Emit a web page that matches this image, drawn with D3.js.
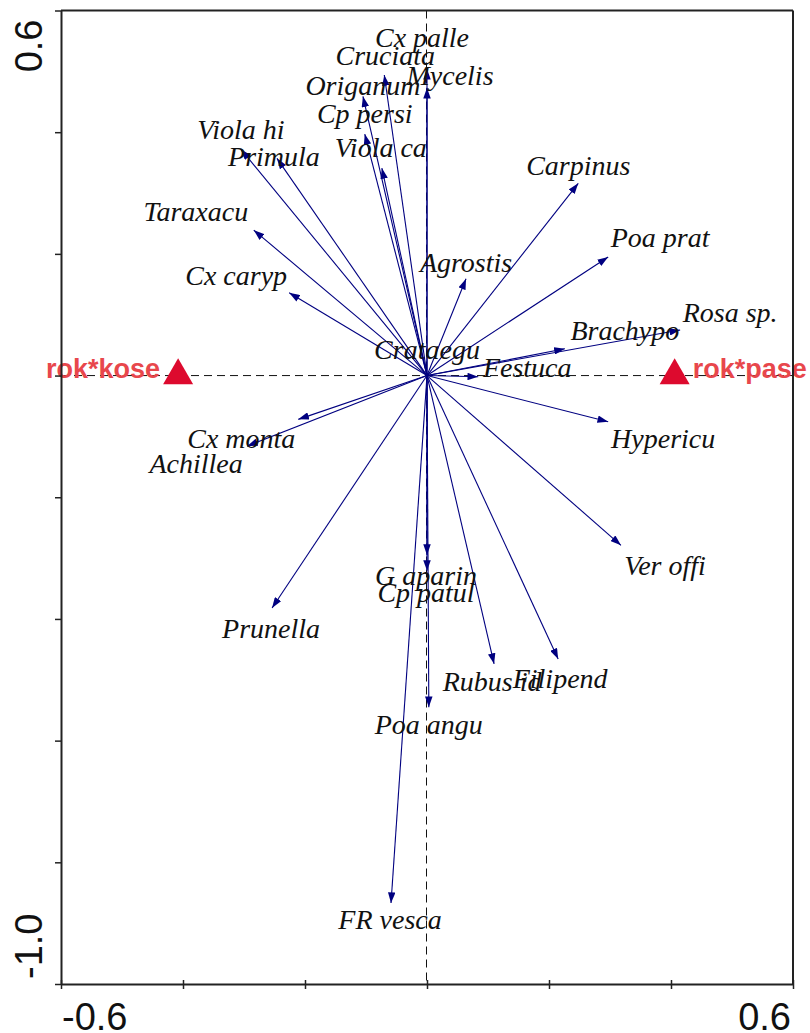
<!DOCTYPE html>
<html>
<head>
<meta charset="utf-8">
<script src="https://cdn.jsdelivr.net/npm/d3@7"></script>
<style>
  body { margin: 0; background: #fff; }
  svg { display: block; }
</style>
</head>
<body>
<svg id="chart" width="810" height="1033"></svg>
<script>
// Species scores (axis 1, axis 2)
const species = ["Cx palle", "Cruciata", "Mycelis", "Origanum", "Cp persi", "Viola ca",
  "Viola hi", "Primula", "Carpinus", "Taraxacu", "Poa prat", "Agrostis", "Cx caryp",
  "Rosa sp.", "Brachypo", "Crataegu", "Festuca", "Cx monta", "Achillea", "Hypericu",
  "Ver offi", "G aparin", "Cp patul", "Prunella", "Rubus id", "Filipend", "Poa angu", "FR vesca"];
const axis1 = [0.000, -0.070, 0.000, -0.105, -0.102, -0.074,
  -0.305, -0.246, 0.248, -0.284, 0.297, 0.064, -0.226,
  0.415, 0.226, 0.000, 0.084, -0.211, -0.295, 0.297,
  0.318, 0.000, 0.000, -0.254, 0.110, 0.215, 0.003, -0.059];
const axis2 = [0.504, 0.494, 0.473, 0.459, 0.397, 0.341,
  0.372, 0.357, 0.316, 0.239, 0.195, 0.159, 0.136,
  0.075, 0.044, 0.004, -0.002, -0.072, -0.116, -0.076,
  -0.279, -0.295, -0.321, -0.382, -0.474, -0.466, -0.545, -0.867];

// Nominal variable centroids
const groups = ["rok*kose", "rok*pase"];
const groupX = [-0.408, 0.406];
const groupY = [0.0, 0.0];

// Axis ticks and end labels
const xTicks = [-0.6, -0.4, -0.2, 0, 0.2, 0.4, 0.6];
const yTicks = [-1.0, -0.8, -0.6, -0.4, -0.2, 0, 0.2, 0.4, 0.6];
const xEndLabels = ["-0.6", "0.6"];
const yEndLabels = ["-1.0", "0.6"];

// label placement relative to the arrow tip (px), as in the canoco plot
const labelShift = [[-5, -22], [1, -10], [23, -3], [0, -1], [0, -11], [-1, -11],
  [0, -10], [-3, 8], [0, -8], [-58, -9], [52, -10], [0, -7], [-53, -8],
  [50, -8], [60, -9], [0, -14], [49, 0], [-57, 29], [-51, 27], [55, 26],
  [44, 30], [-1, 30], [-1, 31], [-1, 30], [-2, 27], [2, 29], [0, 27], [-1, 26]];

const svg = d3.select("#chart");
const plotLeft = 61, plotRight = 793, plotTop = 10.5, plotBottom = 984;

const x = d3.scaleLinear().domain([-0.6, 0.6]).range([plotLeft, plotRight]);
const y = d3.scaleLinear().domain([-1.0, 0.6]).range([plotBottom, plotTop]);

const navy = "#000080";

svg.append("defs").append("marker")
  .attr("id", "head")
  .attr("viewBox", "0 0 10 7")
  .attr("refX", 10)
  .attr("refY", 3.5)
  .attr("markerWidth", 11)
  .attr("markerHeight", 7.5)
  .attr("markerUnits", "userSpaceOnUse")
  .attr("orient", "auto")
  .append("path")
    .attr("d", "M0,0 L10,3.5 L0,7 z")
    .attr("fill", navy);

// dashed zero lines (half-pixel offset keeps them sharp)
svg.append("line")
  .attr("x1", plotLeft).attr("x2", plotRight)
  .attr("y1", y(0)).attr("y2", y(0))
  .attr("stroke", "#111").attr("stroke-width", 1)
  .attr("stroke-dasharray", "8,5");
svg.append("line")
  .attr("x1", Math.round(x(0)) - 0.5).attr("x2", Math.round(x(0)) - 0.5)
  .attr("y1", plotTop).attr("y2", plotBottom)
  .attr("stroke", "#111").attr("stroke-width", 1)
  .attr("stroke-dasharray", "8,5");

const data = species.map((name, i) => ({
  name, sx: axis1[i], sy: axis2[i], shift: labelShift[i]
}));

// species arrows
svg.append("g")
  .selectAll("line")
  .data(data)
  .join("line")
    .attr("x1", x(0)).attr("y1", y(0))
    .attr("x2", d => x(d.sx)).attr("y2", d => y(d.sy))
    .attr("stroke", navy)
    .attr("stroke-width", 1.1)
    .attr("marker-end", d => Math.hypot(x(d.sx) - x(0), y(d.sy) - y(0)) > 10 ? "url(#head)" : null);

svg.append("g")
  .selectAll("text")
  .data(data)
  .join("text")
    .attr("x", d => x(d.sx) + d.shift[0])
    .attr("y", d => y(d.sy) + d.shift[1])
    .attr("text-anchor", "middle")
    .attr("font-family", "'Liberation Serif', 'Times New Roman', serif")
    .attr("font-style", "italic")
    .attr("font-size", 28)
    .attr("fill", "#111")
    .text(d => d.name);

// centroids
svg.append("g")
  .selectAll("path")
  .data(groups)
  .join("path")
    .attr("transform", (d, i) => `translate(${x(groupX[i])},${y(groupY[i])})`)
    .attr("d", d3.symbol(d3.symbolTriangle, 390))
    .attr("fill", "#dd0a2e");

svg.append("g")
  .selectAll("text")
  .data(groups)
  .join("text")
    .attr("x", (d, i) => x(groupX[i]) + (i === 0 ? -18 : 18))
    .attr("y", (d, i) => y(groupY[i]) + 2)
    .attr("text-anchor", (d, i) => i === 0 ? "end" : "start")
    .attr("font-family", "'Liberation Sans', Arial, sans-serif")
    .attr("font-weight", "bold")
    .attr("font-size", 27)
    .attr("fill", "#e8474c")
    .text(d => d);

// frame and axes
const frame = "#222";
svg.append("line").attr("x1", plotLeft).attr("x2", plotRight).attr("y1", plotTop).attr("y2", plotTop)
  .attr("stroke", frame).attr("stroke-width", 2);
svg.append("line").attr("x1", plotRight).attr("x2", plotRight).attr("y1", plotTop).attr("y2", plotBottom)
  .attr("stroke", frame).attr("stroke-width", 2);

const xAxis = svg.append("g")
  .attr("transform", `translate(0,${plotBottom})`)
  .call(d3.axisBottom(x).tickValues(xTicks).tickFormat("").tickSize(5).tickSizeOuter(0));
xAxis.selectAll(".tick line").attr("y1", -4);

const yAxis = svg.append("g")
  .attr("transform", `translate(${plotLeft},0)`)
  .call(d3.axisLeft(y).tickValues(yTicks).tickFormat("").tickSize(6).tickSizeOuter(0));

[xAxis, yAxis].forEach(g => {
  g.select(".domain").attr("stroke", frame).attr("stroke-width", 2);
  g.selectAll(".tick line").attr("stroke", frame).attr("stroke-width", 1.5);
});

const axisFont = "'Liberation Sans', Arial, sans-serif";

svg.append("g")
  .selectAll("text")
  .data(xEndLabels)
  .join("text")
    .attr("x", (d, i) => i === 0 ? x(-0.6) + 1 : x(0.6) - 2)
    .attr("y", 1030)
    .attr("text-anchor", (d, i) => i === 0 ? "start" : "end")
    .attr("font-family", axisFont)
    .attr("font-size", 38)
    .attr("fill", "#111")
    .text(d => d);

svg.append("g")
  .selectAll("text")
  .data(yEndLabels)
  .join("text")
    .attr("transform", (d, i) => `translate(42,${i === 0 ? y(-1.0) - 5 : y(0.6) + 9}) rotate(-90)`)
    .attr("text-anchor", (d, i) => i === 0 ? "start" : "end")
    .attr("font-family", axisFont)
    .attr("font-size", 38)
    .attr("fill", "#111")
    .text(d => d);
</script>
</body>
</html>
